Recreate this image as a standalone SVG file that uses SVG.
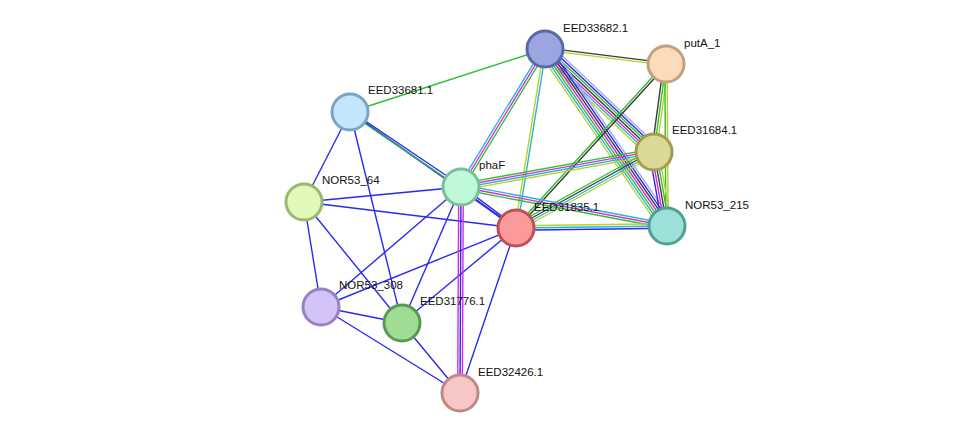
<svg xmlns="http://www.w3.org/2000/svg" width="975" height="439" viewBox="0 0 975 439">
<style>
line{stroke-width:1.4;fill:none}
.g{stroke:#2fc02f}.b{stroke:#2a2af0}.m{stroke:#d82bd8}.c{stroke:#2bb4d8}.y{stroke:#b5d42a}.k{stroke:#3a3a3a}.p{stroke:#a8a8f0}
circle{stroke-width:3}
text{font-family:"Liberation Sans",Arial,sans-serif;font-size:11.5px;fill:#111}
</style>
<rect width="975" height="439" fill="#fff"/>
<g id="connectors">
<!-- singles blue -->
<line class="b" x1="350" y1="112" x2="304" y2="202"/>
<line class="b" x1="350" y1="112" x2="402" y2="323"/>
<line class="b" x1="350" y1="112" x2="516" y2="228" style="stroke-width:1.8"/>
<line class="b" x1="304" y1="202" x2="461" y2="187"/>
<line class="b" x1="304" y1="202" x2="516" y2="228"/>
<line class="b" x1="304" y1="202" x2="321" y2="307"/>
<line class="b" x1="304" y1="202" x2="402" y2="323"/>
<line class="b" x1="461" y1="187" x2="321" y2="307"/>
<line class="b" x1="461" y1="187" x2="402" y2="323"/>
<line class="b" x1="516" y1="228" x2="321" y2="307"/>
<line class="b" x1="516" y1="228" x2="402" y2="323"/>
<line class="b" x1="516" y1="228" x2="460" y2="393"/>
<line class="b" x1="321" y1="307" x2="402" y2="323"/>
<line class="b" x1="321" y1="307" x2="460" y2="393"/>
<line class="b" x1="402" y1="323" x2="460" y2="393"/>
<line class="g" x1="545" y1="49" x2="350" y2="112"/>
<!-- 33681-phaF -->
<g><line class="g" x1="350" y1="112" x2="461" y2="187" transform="translate(-0.7,1)"/><line class="b" x1="350" y1="112" x2="461" y2="187" transform="translate(0.7,-1)"/></g>
<!-- phaF-31835 -->
<g><line class="b" x1="461" y1="187" x2="516" y2="228" transform="translate(-0.7,0.9)"/><line class="b" x1="461" y1="187" x2="516" y2="228" transform="translate(0.7,-0.9)"/></g>
<!-- phaF-32426 -->
<g><line class="m" x1="461" y1="187" x2="460" y2="393" transform="translate(-2.3,0)"/><line class="b" x1="461" y1="187" x2="460" y2="393"/><line class="m" x1="461" y1="187" x2="460" y2="393" transform="translate(2.3,0)"/></g>
<!-- 33682-putA -->
<g><line class="k" x1="545" y1="49" x2="666" y2="64" transform="translate(0.15,-1.15)"/><line class="y" x1="545" y1="49" x2="666" y2="64" transform="translate(-0.15,1.15)"/></g>
<!-- 33682-31684 -->
<g>
<line class="p" x1="545" y1="49" x2="654" y2="152" transform="translate(4.7,-5)"/>
<line class="b" x1="545" y1="49" x2="654" y2="152" transform="translate(3.2,-3.3)"/>
<line class="g" x1="545" y1="49" x2="654" y2="152" transform="translate(1.6,-1.7)"/>
<line class="k" x1="545" y1="49" x2="654" y2="152"/>
<line class="m" x1="545" y1="49" x2="654" y2="152" transform="translate(-1.6,1.7)"/>
<line class="c" x1="545" y1="49" x2="654" y2="152" transform="translate(-3.2,3.3)"/>
<line class="y" x1="545" y1="49" x2="654" y2="152" transform="translate(-4.7,5)"/>
</g>
<!-- 33682-NOR215 -->
<g>
<line class="p" x1="545" y1="49" x2="667" y2="226" transform="translate(5.7,-3.9)"/>
<line class="b" x1="545" y1="49" x2="667" y2="226" transform="translate(3.8,-2.6)"/>
<line class="k" x1="545" y1="49" x2="667" y2="226" transform="translate(1.9,-1.3)"/>
<line class="m" x1="545" y1="49" x2="667" y2="226"/>
<line class="g" x1="545" y1="49" x2="667" y2="226" transform="translate(-1.9,1.3)"/>
<line class="c" x1="545" y1="49" x2="667" y2="226" transform="translate(-3.8,2.6)"/>
<line class="y" x1="545" y1="49" x2="667" y2="226" transform="translate(-5.7,3.9)"/>
</g>
<!-- 33682-phaF -->
<g><line class="c" x1="545" y1="49" x2="461" y2="187" transform="translate(-2,-1.2)"/><line class="m" x1="545" y1="49" x2="461" y2="187"/><line class="g" x1="545" y1="49" x2="461" y2="187" transform="translate(2,1.2)"/></g>
<!-- 33682-31835 -->
<g><line class="y" x1="545" y1="49" x2="516" y2="228" transform="translate(-1.15,-0.2)"/><line class="c" x1="545" y1="49" x2="516" y2="228" transform="translate(1.15,0.2)"/></g>
<!-- putA-31684 -->
<g><line class="k" x1="666" y1="64" x2="654" y2="152" transform="translate(-2.3,-0.3)"/><line class="g" x1="666" y1="64" x2="654" y2="152"/><line class="y" x1="666" y1="64" x2="654" y2="152" transform="translate(2.3,0.3)"/></g>
<!-- putA-NOR215 -->
<g><line class="g" x1="666" y1="64" x2="667" y2="226" transform="translate(-1.15,0)"/><line class="y" x1="666" y1="64" x2="667" y2="226" transform="translate(1.15,0)"/></g>
<!-- putA-31835 -->
<g><line class="g" x1="666" y1="64" x2="516" y2="228" transform="translate(-0.85,-0.8)"/><line class="k" x1="666" y1="64" x2="516" y2="228" transform="translate(0.85,0.8)"/></g>
<!-- 31684-phaF -->
<g><line class="g" x1="654" y1="152" x2="461" y2="187" transform="translate(0.6,-3.4)"/><line class="m" x1="654" y1="152" x2="461" y2="187" transform="translate(0.2,-1.1)"/><line class="c" x1="654" y1="152" x2="461" y2="187" transform="translate(-0.2,1.1)"/><line class="y" x1="654" y1="152" x2="461" y2="187" transform="translate(-0.6,3.4)"/></g>
<!-- 31684-31835 -->
<g><line class="g" x1="654" y1="152" x2="516" y2="228" transform="translate(-1.6,-3)"/><line class="k" x1="654" y1="152" x2="516" y2="228" transform="translate(-0.55,-1)"/><line class="c" x1="654" y1="152" x2="516" y2="228" transform="translate(0.55,1)"/><line class="y" x1="654" y1="152" x2="516" y2="228" transform="translate(1.6,3)"/></g>
<!-- 31684-NOR215 -->
<g><line class="b" x1="654" y1="152" x2="667" y2="226" transform="translate(-4.6,0.8)"/><line class="m" x1="654" y1="152" x2="667" y2="226" transform="translate(-2.3,0.4)"/><line class="k" x1="654" y1="152" x2="667" y2="226"/><line class="g" x1="654" y1="152" x2="667" y2="226" transform="translate(2.3,-0.4)"/><line class="y" x1="654" y1="152" x2="667" y2="226" transform="translate(4.6,-0.8)"/></g>
<!-- phaF-NOR215 -->
<g><line class="c" x1="461" y1="187" x2="667" y2="226" transform="translate(0.4,-2.3)"/><line class="m" x1="461" y1="187" x2="667" y2="226"/><line class="g" x1="461" y1="187" x2="667" y2="226" transform="translate(-0.4,2.3)"/></g>
<!-- 31835-NOR215 -->
<g><line class="y" x1="516" y1="228" x2="667" y2="226" transform="translate(0,-2.3)"/><line class="c" x1="516" y1="228" x2="667" y2="226"/><line class="b" x1="516" y1="228" x2="667" y2="226" transform="translate(0,2.3)"/></g>
</g>
<g id="EED33682.1"><circle cx="545" cy="49" r="18" fill="#9ba5e0" stroke="#5a68a8"/><text x="563" y="32">EED33682.1</text></g>
<g id="putA_1"><circle cx="666" cy="64" r="18" fill="#fddab8" stroke="#c0a080"/><text x="684" y="47">putA_1</text></g>
<g id="EED33681.1"><circle cx="350" cy="112" r="18" fill="#c2e6fb" stroke="#7aa6c0"/><text x="368" y="94">EED33681.1</text></g>
<g id="EED31684.1"><circle cx="654" cy="152" r="18" fill="#dcd998" stroke="#a09c50"/><text x="672" y="134">EED31684.1</text></g>
<g id="phaF"><circle cx="461" cy="187" r="18" fill="#c0f8da" stroke="#78c09a"/><text x="479" y="169">phaF</text></g>
<g id="NOR53_64"><circle cx="304" cy="202" r="18" fill="#e2f8ba" stroke="#9ab870"/><text x="322" y="184">NOR53_64</text></g>
<g id="EED31835.1"><circle cx="516" cy="228" r="18" fill="#fa9a9a" stroke="#c05050"/><text x="534" y="211">EED31835.1</text></g>
<g id="NOR53_215"><circle cx="667" cy="226" r="18" fill="#9de0d8" stroke="#50a098"/><text x="685" y="209">NOR53_215</text></g>
<g id="NOR53_308"><circle cx="321" cy="307" r="18" fill="#d4c2f8" stroke="#9a80c0"/><text x="339" y="289">NOR53_308</text></g>
<g id="EED31776.1"><circle cx="402" cy="323" r="18" fill="#9fdd94" stroke="#5a9a50"/><text x="420" y="305">EED31776.1</text></g>
<g id="EED32426.1"><circle cx="460" cy="393" r="18" fill="#f7c7c6" stroke="#c08888"/><text x="478" y="376">EED32426.1</text></g>
</svg>
